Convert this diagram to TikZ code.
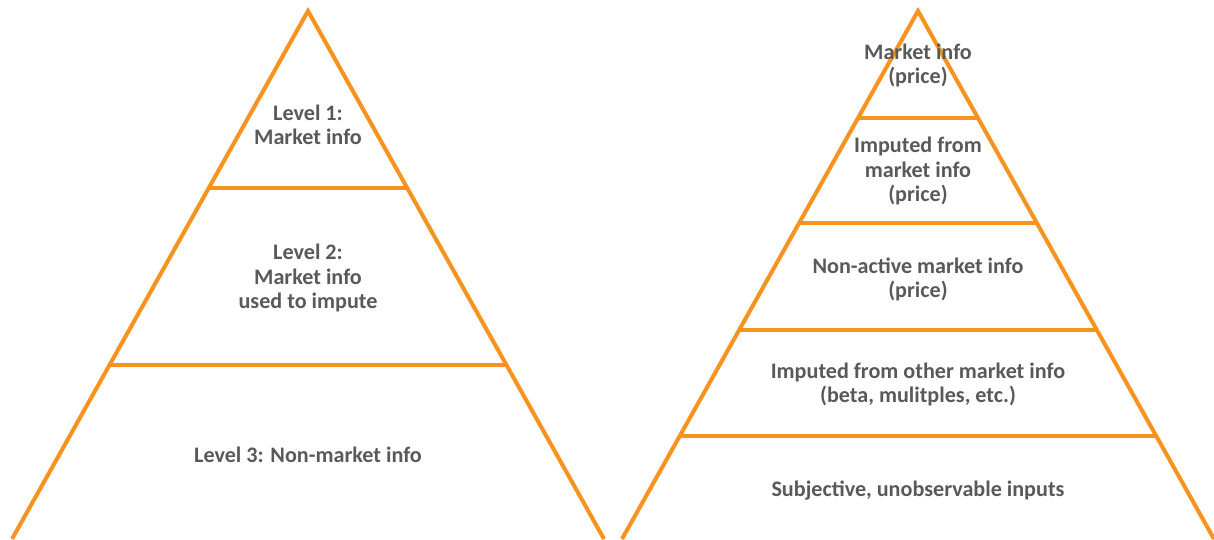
\documentclass[tikz,border=0pt]{standalone}
\usepackage{fontspec}
\setmainfont{Carlito}
\usetikzlibrary{positioning}
\definecolor{pyrOrange}{RGB}{247,147,30}
\definecolor{pyrText}{RGB}{89,89,89}
\newcommand\colorPyramid{pyrOrange}
\newcommand\pyramidSlope{0.5606}
\newcommand\pyramidTop{11}
% horizontal divider of a pyramid with apex x=#1 at height #2
\newcommand\drawDivider[2]{
	\draw[pyr] ({#1-(#2-\pyramidTop)*\pyramidSlope},#2) to ({#1+(#2-\pyramidTop)*\pyramidSlope},#2);
}
\tikzset{
	pyr/.style={color=\colorPyramid, line width=2.3pt},
	lvl/.style={font=\bfseries\fontsize{12.6}{13.7}\selectfont, text=pyrText, align=center, inner sep=0pt}
}

\begin{document}
\begin{tikzpicture}[x=0.02cm, y=-0.02cm]
	\useasboundingbox (0,0) rectangle (1214,539);

	% left pyramid
	\coordinate (lTop) at (308,\pyramidTop);
	\draw[pyr, line join=miter] (12,539) -- (lTop) -- (604,539);
	\foreach \y in {188,365}{
		\drawDivider{308}{\y}
	}
	\node[lvl] (lvlOne) at (308,125) {Level 1:\\Market info};
	\node[lvl] (lvlTwo) at (308,278) {Level 2:\\Market info\\used to impute};
	\node[lvl] (lvlThree) at (308,455) {Level 3: Non-market info};

	% right pyramid
	\coordinate (rTop) at (918,\pyramidTop);
	\draw[pyr, line join=miter] (622,539) -- (rTop) -- (1214,539);
	\foreach \y in {118,223,330,436}{
		\drawDivider{918}{\y}
	}
	\node[lvl] (mktInfo) at (918,65) {Market info\\(price)};
	\node[lvl] (impMkt) at (918,171) {Imputed from\\market info\\(price)};
	\node[lvl] (nonActive) at (918,279) {Non-active market info\\(price)};
	\node[lvl] (impOther) at (918,384) {Imputed from other market info\\(beta, mulitples, etc.)};
	\node[lvl] (subjective) at (918,491) {Subjective, unobservable inputs};
\end{tikzpicture}
\end{document}
